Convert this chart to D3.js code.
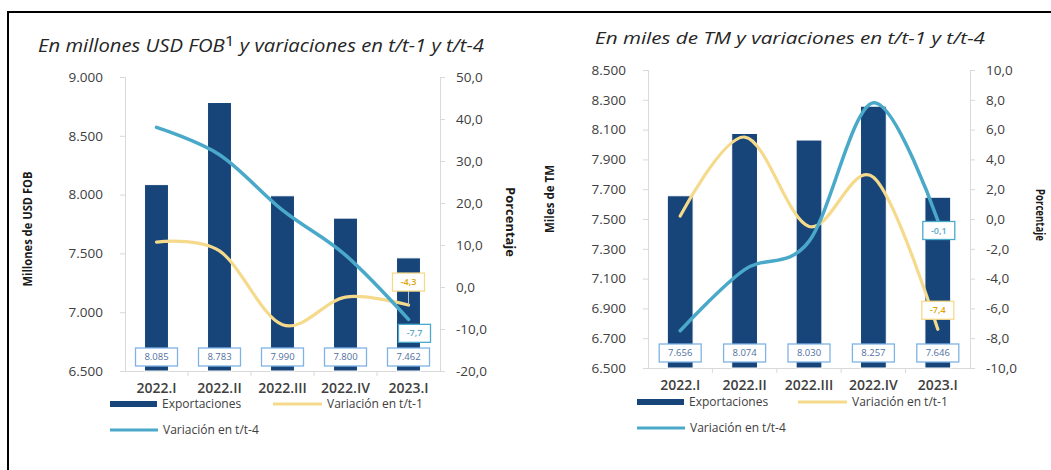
<!DOCTYPE html>
<html>
<head>
<meta charset="utf-8">
<script src="https://cdn.jsdelivr.net/npm/d3@7"></script>
<style>
  html, body { margin: 0; padding: 0; background: #fff; }
  svg { display: block; }
  text { font-family: "Open Sans", "Liberation Sans", sans-serif; }
</style>
</head>
<body>
<svg id="chart" width="1051" height="470"></svg>
<script>
// Quarters shown on both panels
const categories = ["2022.I", "2022.II", "2022.III", "2022.IV", "2023.I"];

// Panel 1: exports in millions of USD FOB, and % changes
const valueExports = [8085, 8783, 7990, 7800, 7462];
const valueVarQ = [10.7, 8.6, -9.0, -2.4, -4.3];   // t/t-1
const valueVarY = [38.0, 31.5, 18.3, 7.6, -7.7];   // t/t-4
const valueTicksLeft = [6500, 7000, 7500, 8000, 8500, 9000];
const valueTicksRight = [-20, -10, 0, 10, 20, 30, 40, 50];

// Panel 2: exports in thousands of metric tons, and % changes
const volumeExports = [7656, 8074, 8030, 8257, 7646];
const volumeVarQ = [0.2, 5.5, -0.5, 2.8, -7.4];    // t/t-1
const volumeVarY = [-7.5, -3.4, -1.5, 7.8, -0.1];  // t/t-4
const volumeTicksLeft = [6500, 6700, 6900, 7100, 7300, 7500, 7700, 7900, 8100, 8300, 8500];
const volumeTicksRight = [-10, -8, -6, -4, -2, 0, 2, 4, 6, 8, 10];

const legendLabels = ["Exportaciones", "Variación en t/t-1", "Variación en t/t-4"];

const esLocale = d3.formatLocale({
  decimal: ",", thousands: ".", grouping: [3], currency: ["", ""], minus: "-"
});
const fmtInt = esLocale.format(",.0f");
const fmtPct = esLocale.format(".1f");

const COL_BAR = "#17457a";
const COL_Q = "#f6da8b";
const COL_Y = "#4aa9c9";
const COL_AXIS = "#d9d9d9";
const COL_TICK = "#404040";

const svg = d3.select("#chart");

// Outer frame (left and top rules)
svg.append("line").attr("x1", 8).attr("y1", 12).attr("x2", 1051).attr("y2", 12)
  .attr("stroke", "#000").attr("stroke-width", 2);
svg.append("line").attr("x1", 8).attr("y1", 11).attr("x2", 8).attr("y2", 470)
  .attr("stroke", "#000").attr("stroke-width", 2);

function drawPanel(p) {
  const g = svg.append("g");

  const x = d3.scaleBand().domain(categories).range([p.x0, p.x1]).paddingInner(p.pad).paddingOuter(p.pad / 2);
  const yL = d3.scaleLinear().domain(d3.extent(p.ticksL)).range([p.yBot, p.yTop]);
  const yR = d3.scaleLinear().domain(d3.extent(p.ticksR)).range([p.yBot, p.yTop]);
  const cx = c => x(c) + x.bandwidth() / 2;

  // Title
  const title = g.append("text")
    .attr("x", p.titleX).attr("y", p.titleY)
    .attr("text-anchor", "middle")
    .attr("textLength", p.titleLen).attr("lengthAdjust", "spacingAndGlyphs")
    .attr("font-style", "italic").attr("font-size", p.titleSize).attr("fill", "#262626");
  p.title.forEach(part => {
    const ts = title.append("tspan").text(part.t);
    if (part.sup) ts.attr("dy", -6).attr("font-size", p.titleSize * 0.85).attr("font-style", "normal");
    else if (part.after) ts.attr("dy", 6);
  });

  // Axes
  const axL = d3.axisLeft(yL).tickValues(p.ticksL).tickFormat(fmtInt).tickSize(5).tickPadding(17);
  const axR = d3.axisRight(yR).tickValues(p.ticksR).tickFormat(fmtPct).tickSize(5).tickPadding(11);
  const axB = d3.axisBottom(x).tickSize(0).tickPadding(12);

  const gL = g.append("g").attr("transform", `translate(${p.x0},0)`).call(axL);
  const gR = g.append("g").attr("transform", `translate(${p.x1},0)`).call(axR);
  const gB = g.append("g").attr("transform", `translate(0,${p.yBot})`).call(axB);
  [gL, gR, gB].forEach(a => {
    a.select(".domain").attr("stroke", COL_AXIS);
    a.selectAll(".tick line").attr("stroke", COL_AXIS);
  });
  [gL, gR].forEach(a => a.selectAll(".tick text")
    .attr("font-size", 13.5).attr("fill", COL_TICK).attr("font-family", "Open Sans, sans-serif"));
  gB.selectAll(".tick text").attr("font-size", 14).attr("font-weight", 600).attr("fill", "#404040")
    .attr("font-family", "Open Sans, sans-serif");
  // category separators on the baseline
  g.selectAll(".sep").data(categories.slice(1)).join("line")
    .attr("x1", c => x(c) - x.step() * x.paddingInner() / 2)
    .attr("x2", c => x(c) - x.step() * x.paddingInner() / 2)
    .attr("y1", p.yBot).attr("y2", p.yBot + 5).attr("stroke", COL_AXIS);

  // Axis titles
  g.append("text")
    .attr("transform", `translate(${p.ltX},${p.ltY}) rotate(-90)`)
    .attr("text-anchor", "middle").attr("font-size", 11.5).attr("font-weight", 700)
    .attr("textLength", p.ltLen).attr("lengthAdjust", "spacingAndGlyphs")
    .attr("font-family", "Liberation Sans Narrow, Liberation Sans, sans-serif")
    .attr("fill", "#1a1a1a").text(p.leftTitle);
  g.append("text")
    .attr("transform", `translate(${p.rtX},${p.rtY}) rotate(90)`)
    .attr("text-anchor", "middle").attr("font-size", 11.5).attr("font-weight", 700)
    .attr("textLength", p.rtLen).attr("lengthAdjust", "spacingAndGlyphs")
    .attr("font-family", "Liberation Sans Narrow, Liberation Sans, sans-serif")
    .attr("fill", "#1a1a1a").text("Porcentaje");

  // Bars
  g.selectAll(".bar").data(p.bars).join("rect")
    .attr("x", (d, i) => x(categories[i]))
    .attr("y", d => yL(d))
    .attr("width", x.bandwidth())
    .attr("height", d => p.yBot - yL(d))
    .attr("fill", COL_BAR).attr("stroke", "#ffffff").attr("stroke-width", 1);

  // Bar value boxes near the baseline
  const lab = g.selectAll(".blab").data(p.bars).join("g")
    .attr("transform", (d, i) => `translate(${cx(categories[i])},${p.labY})`);
  lab.append("rect").attr("x", -21).attr("y", -9).attr("width", 42).attr("height", 18)
    .attr("fill", "#fff").attr("stroke", "#7fb2e5").attr("stroke-width", 1.3);
  lab.append("text").attr("text-anchor", "middle").attr("dy", "0.35em")
    .attr("font-size", 9.5).attr("fill", "#4f6f9f").text(d => fmtInt(d));

  // Smoothed change lines
  const line = d3.line().x((d, i) => cx(categories[i])).y(d => yR(d)).curve(d3.curveCardinal.tension(0));
  g.append("path").datum(p.varQ).attr("d", line)
    .attr("fill", "none").attr("stroke", COL_Q).attr("stroke-width", 3.2).attr("stroke-linecap", "round");
  g.append("path").datum(p.varY).attr("d", line)
    .attr("fill", "none").attr("stroke", COL_Y).attr("stroke-width", 3.5).attr("stroke-linecap", "round");

  // Labels for the latest quarter's changes
  const last = categories.length - 1;
  [[p.varQ, COL_Q, "#e0a400", p.qOff], [p.varY, COL_Y, "#5aa7c8", p.yOff]].forEach(([arr, border, fg, off]) => {
    const px = cx(categories[last]), py = yR(arr[last]);
    const bx = px + off[0], by = py + off[1];
    if (off[2]) {
      g.append("line").attr("x1", px).attr("y1", py).attr("x2", px).attr("y2", by + (off[1] < 0 ? 9 : -9))
        .attr("stroke", "#bfbfbf").attr("stroke-width", 1);
    }
    g.append("rect").attr("x", bx - 16).attr("y", by - 9).attr("width", 32).attr("height", 18)
      .attr("fill", "#fff").attr("stroke", border).attr("stroke-width", 1.3);
    g.append("text").attr("x", bx).attr("y", by).attr("dy", "0.35em").attr("text-anchor", "middle")
      .attr("font-size", 9).attr("font-weight", 600).attr("fill", fg).text(fmtPct(arr[last]));
  });

  // Legend
  const lg = g.append("g").attr("font-size", 12).attr("fill", "#404040");
  lg.append("rect").attr("x", p.lgX).attr("y", p.lgY - 3).attr("width", 47).attr("height", 6).attr("fill", COL_BAR);
  lg.append("text").attr("x", p.lgX + 52).attr("y", p.lgY).attr("dy", "0.35em").text(legendLabels[0]);
  lg.append("line").attr("x1", p.lgX2).attr("x2", p.lgX2 + 49).attr("y1", p.lgY).attr("y2", p.lgY)
    .attr("stroke", COL_Q).attr("stroke-width", 3);
  lg.append("text").attr("x", p.lgX2 + 54).attr("y", p.lgY).attr("dy", "0.35em").text(legendLabels[1]);
  lg.append("line").attr("x1", p.lgX).attr("x2", p.lgX + 48).attr("y1", p.lgY + 26).attr("y2", p.lgY + 26)
    .attr("stroke", COL_Y).attr("stroke-width", 3);
  lg.append("text").attr("x", p.lgX + 53).attr("y", p.lgY + 26).attr("dy", "0.35em").text(legendLabels[2]);
}

drawPanel({
  title: [{ t: "En millones USD FOB" }, { t: "1", sup: true }, { t: " y variaciones en t/t-1 y t/t-4", after: true }],
  titleX: 261, titleY: 52, titleSize: 18, titleLen: 446,
  x0: 125, x1: 440, yTop: 77, yBot: 371, pad: 0.62,
  ticksL: valueTicksLeft, ticksR: valueTicksRight,
  bars: valueExports, varQ: valueVarQ, varY: valueVarY,
  leftTitle: "Millones de USD FOB", ltX: 32, ltY: 229, ltLen: 115, rtX: 506, rtY: 222, rtLen: 70,
  labY: 357, qOff: [0, -23, true], yOff: [6, 14, false],
  lgX: 110, lgX2: 273, lgY: 404
});

drawPanel({
  title: [{ t: "En miles de TM y variaciones en t/t-1 y t/t-4" }],
  titleX: 790, titleY: 44, titleSize: 17, titleLen: 390,
  x0: 648, x1: 970, yTop: 70, yBot: 368, pad: 0.6,
  ticksL: volumeTicksLeft, ticksR: volumeTicksRight,
  bars: volumeExports, varQ: volumeVarQ, varY: volumeVarY,
  leftTitle: "Miles de TM", ltX: 554, ltY: 199, ltLen: 68, rtX: 1036, rtY: 215, rtLen: 52,
  labY: 353, qOff: [0, -19, false], yOff: [1, 10, false],
  lgX: 637, lgX2: 798, lgY: 402
});
</script>
</body>
</html>
